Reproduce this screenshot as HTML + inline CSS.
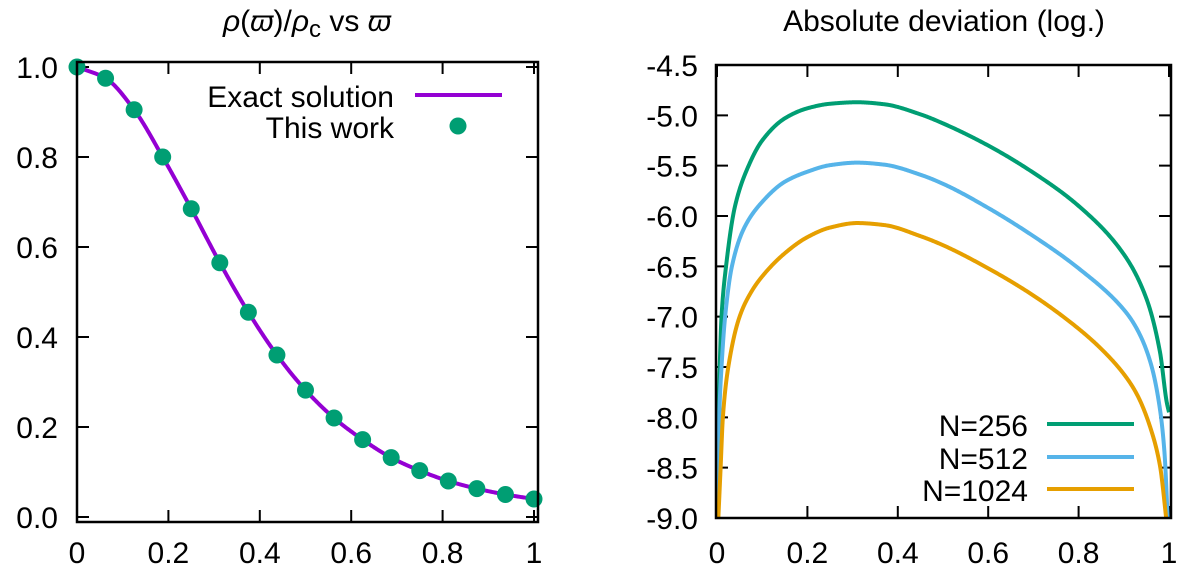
<!DOCTYPE html>
<html><head><meta charset="utf-8"><style>
html,body{margin:0;padding:0;background:#fff;}
svg text{font-family:"Liberation Sans",sans-serif;font-size:30px;fill:#000;}
</style></head><body>
<svg id="c" width="1200" height="576" viewBox="0 0 1200 576" xmlns="http://www.w3.org/2000/svg"></svg>
<script>
// Left chart data
const leftX = [0,0.0625,0.125,0.1875,0.25,0.3125,0.375,0.4375,0.5,0.5625,0.625,0.6875,0.75,0.8125,0.875,0.9375,1];
const leftY = [1.0,0.975,0.905,0.80,0.685,0.565,0.455,0.36,0.282,0.22,0.172,0.132,0.103,0.08,0.063,0.05,0.04];
const leftYTicks = [0,0.2,0.4,0.6,0.8,1.0];
const leftYTickLabels = ["0.0","0.2","0.4","0.6","0.8","1.0"];
const xTicks = [0,0.2,0.4,0.6,0.8,1];
const xTickLabels = ["0","0.2","0.4","0.6","0.8","1"];
// Right chart data
const n256X = [0.001,0.003,0.006,0.01,0.02,0.04,0.07,0.1,0.15,0.2,0.25,0.31,0.37,0.45,0.5,0.6,0.7,0.8,0.9,0.95,0.98,0.995,1.0];
const n256Y = [-9.0,-8.0,-7.5,-7.0,-6.5,-5.9,-5.5,-5.25,-5.03,-4.93,-4.885,-4.87,-4.89,-4.99,-5.08,-5.3,-5.57,-5.9,-6.38,-6.82,-7.35,-7.85,-7.95];
const n512X = [0.002,0.005,0.01,0.018,0.033,0.06,0.1,0.15,0.2,0.25,0.31,0.37,0.45,0.5,0.6,0.7,0.8,0.9,0.93,0.96,0.98,0.99,0.998];
const n512Y = [-9.0,-8.0,-7.5,-7.0,-6.5,-6.12,-5.86,-5.66,-5.56,-5.495,-5.47,-5.49,-5.59,-5.68,-5.92,-6.2,-6.52,-6.93,-7.13,-7.47,-7.92,-8.35,-9.1];
const n1024X = [0.003,0.008,0.013,0.025,0.05,0.075,0.1,0.15,0.2,0.25,0.31,0.37,0.45,0.5,0.6,0.7,0.8,0.85,0.9,0.93,0.96,0.98,0.995];
const n1024Y = [-9.0,-8.5,-8.0,-7.5,-7.0,-6.76,-6.6,-6.37,-6.21,-6.115,-6.07,-6.09,-6.2,-6.29,-6.52,-6.79,-7.12,-7.32,-7.57,-7.78,-8.12,-8.48,-9.05];
const rightYTicks = [-9.0,-8.5,-8.0,-7.5,-7.0,-6.5,-6.0,-5.5,-5.0,-4.5];
const rightYTickLabels = ["-9.0","-8.5","-8.0","-7.5","-7.0","-6.5","-6.0","-5.5","-5.0","-4.5"];

const NS="http://www.w3.org/2000/svg";
const svg=document.getElementById('c');
function mk(tag,attrs,parent){const e=document.createElementNS(NS,tag);for(const k in attrs)e.setAttribute(k,attrs[k]);(parent||svg).appendChild(e);return e;}

const L={x0:77,x1:534,y0:517,y1:67,fl:77,fr:538,ft:62,fb:522};
const R={x0:717,x1:1169,fl:716,fr:1171,ft:65,fb:518};
const lx=v=>L.x0+(L.x1-L.x0)*v;
const ly=v=>L.y0+(L.y1-L.y0)*v;
const rx=v=>R.x0+(R.x1-R.x0)*v;
const ry=v=>R.fb+(R.ft-R.fb)*(v+9)/4.5;

function mono(xs,ys,toX,toY){
  const n=xs.length,d=[],m=[];
  for(let i=0;i<n-1;i++)d.push((ys[i+1]-ys[i])/(xs[i+1]-xs[i]));
  m[0]=d[0];m[n-1]=d[n-2];
  for(let i=1;i<n-1;i++){
    if(d[i-1]*d[i]<=0)m[i]=0;
    else{const h0=xs[i]-xs[i-1],h1=xs[i+1]-xs[i];const w1=2*h1+h0,w2=h1+2*h0;m[i]=(w1+w2)/(w1/d[i-1]+w2/d[i]);}
  }
  let pts=[];
  for(let i=0;i<n-1;i++){
    const h=xs[i+1]-xs[i];
    for(let k=0;k<40;k++){
      const t=k/40,t2=t*t,t3=t2*t;
      const y=(2*t3-3*t2+1)*ys[i]+(t3-2*t2+t)*h*m[i]+(-2*t3+3*t2)*ys[i+1]+(t3-t2)*h*m[i+1];
      pts.push(toX(xs[i]+t*h).toFixed(2)+','+toY(y).toFixed(2));
    }
  }
  pts.push(toX(xs[n-1]).toFixed(2)+','+toY(ys[n-1]).toFixed(2));
  return 'M'+pts.join(' L');
}

const defs=mk('defs',{});
const cpL=mk('clipPath',{id:'cl'},defs);mk('rect',{x:L.fl,y:L.ft,width:L.fr-L.fl,height:L.fb-L.ft},cpL);
const cpR=mk('clipPath',{id:'cr'},defs);mk('rect',{x:R.fl,y:R.ft,width:R.fr-R.fl,height:R.fb-R.ft},cpR);

// ---- Left chart ----
const gL=mk('g',{});


const t1=mk('text',{x:307,y:31,'text-anchor':'middle','font-size':33},gL);


t1.innerHTML='<tspan font-style="italic">ρ</tspan>(<tspan font-style="italic">ϖ</tspan>)/<tspan font-style="italic">ρ</tspan><tspan font-size="24" dy="6">c</tspan><tspan dy="-6"> vs </tspan><tspan font-style="italic">ϖ</tspan>';
leftYTicks.forEach((v,i)=>{
  const y=ly(v);
  const tk=mk('path',{d:`M${L.fl},${y}h12M${L.fr},${y}h-12`,stroke:'#000','stroke-width':2},gL);
  
  
  const tl=mk('text',{x:58,y:y+11,'text-anchor':'end'},gL);tl.textContent=leftYTickLabels[i];
  
  
});
xTicks.forEach((v,i)=>{
  const x=lx(v);
  const tk=mk('path',{d:`M${x},${L.fb}v-12M${x},${L.ft}v12`,stroke:'#000','stroke-width':2},gL);
  
  
  const tl=mk('text',{x:x,y:563,'text-anchor':'middle'},gL);tl.textContent=xTickLabels[i];
  
  
});
const exact=mk('path',{d:mono(leftX,leftY,lx,ly),fill:'none',stroke:'#9400d3','stroke-width':4,'clip-path':'url(#cl)'},gL);


leftX.forEach((v,i)=>{
  const c=mk('circle',{cx:lx(v),cy:ly(leftY[i]),r:8.5,fill:'#009e73'},gL);
  
  
});
const fL=mk('rect',{x:L.fl,y:L.ft,width:L.fr-L.fl,height:L.fb-L.ft,fill:'none',stroke:'#000','stroke-width':2.5},gL);


const lg1=mk('text',{x:394,y:107,'text-anchor':'end','font-size':32},gL);lg1.textContent='Exact solution';


const lg1l=mk('line',{x1:415,y1:95,x2:502,y2:95,stroke:'#9400d3','stroke-width':4},gL);


const lg2=mk('text',{x:394,y:138,'text-anchor':'end','font-size':32},gL);lg2.textContent='This work';


const lg2d=mk('circle',{cx:458,cy:126,r:8.5,fill:'#009e73'},gL);



// ---- Right chart ----
const gR=mk('g',{});


const t2=mk('text',{x:944,y:31,'text-anchor':'middle','font-size':33},gR);t2.textContent='Absolute deviation (log.)';


rightYTicks.forEach((v,i)=>{
  const y=ry(v);
  const tk=mk('path',{d:`M${R.fl},${y}h12M${R.fr},${y}h-12`,stroke:'#000','stroke-width':2},gR);
  
  
  const tl=mk('text',{x:698,y:y+11,'text-anchor':'end'},gR);tl.textContent=rightYTickLabels[i];
  
  
});
xTicks.forEach((v,i)=>{
  const x=rx(v);
  const tk=mk('path',{d:`M${x},${R.fb}v-12M${x},${R.ft}v12`,stroke:'#000','stroke-width':2},gR);
  
  
  const tl=mk('text',{x:x,y:563,'text-anchor':'middle'},gR);tl.textContent=xTickLabels[i];
  
  
});
const series=[[n256X,n256Y,'#009e73','n256-line'],[n512X,n512Y,'#56b4e9','n512-line'],[n1024X,n1024Y,'#e69f00','n1024-line']];
series.forEach(s=>{
  const p=mk('path',{d:mono(s[0],s[1],rx,ry),fill:'none',stroke:s[2],'stroke-width':4,'clip-path':'url(#cr)'},gR);
  
  
});
const fR=mk('rect',{x:R.fl,y:R.ft,width:R.fr-R.fl,height:R.fb-R.ft,fill:'none',stroke:'#000','stroke-width':2.5},gR);


const legR=[['N=256','#009e73',424],['N=512','#56b4e9',457],['N=1024','#e69f00',489]];
legR.forEach(l=>{
  const t=mk('text',{x:1028,y:l[2]+12,'text-anchor':'end','font-size':32},gR);t.textContent=l[0];
  
  
  const ln=mk('line',{x1:1047,y1:l[2],x2:1134,y2:l[2],stroke:l[1],'stroke-width':4},gR);
  
  
});
</script>
</body></html>
